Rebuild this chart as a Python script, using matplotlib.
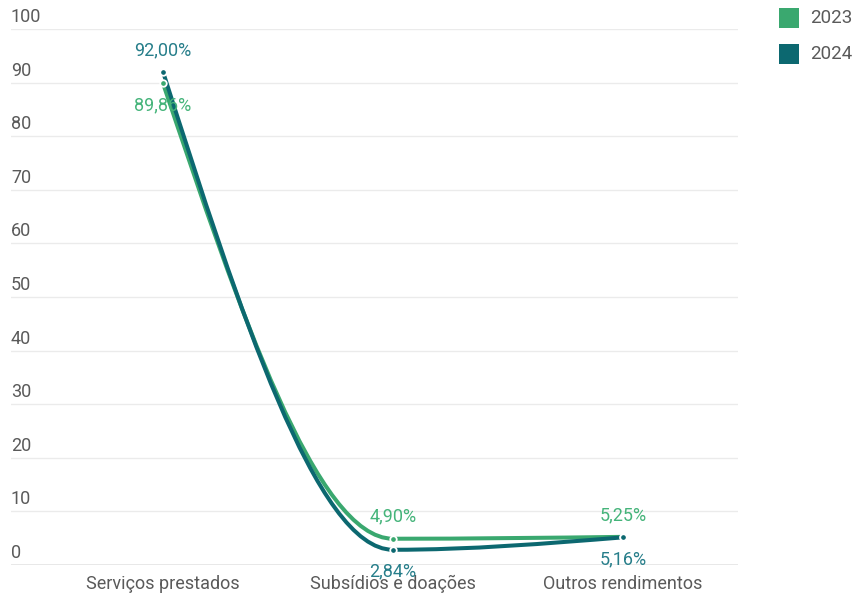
import numpy as np
import matplotlib
matplotlib.use("Agg")
import matplotlib.pyplot as plt
from matplotlib.path import Path
from matplotlib.patches import PathPatch, Rectangle

plt.rcParams['font.family'] = ['Roboto', 'DejaVu Sans']

categories = ["Serviços prestados", "Subsídios e doações", "Outros rendimentos"]
series_names = ["2023", "2024"]
values_2023 = [89.86, 4.90, 5.25]
values_2024 = [92.00, 2.84, 5.16]
y_ticks = [0, 10, 20, 30, 40, 50, 60, 70, 80, 90, 100]

colors = {"2023": "#3aa86f", "2024": "#0c6870"}
label_colors = {"2023": "#45b47a", "2024": "#277e8a"}
# label placement per point: +1 above, -1 below
placement = {"2023": [-1, 1, 1], "2024": [1, -1, -1]}


def monotone_path(x, y):
    """Cubic Bezier path using monotone-X tangents (as in d3.curveMonotoneX)."""
    x = np.asarray(x, float)
    y = np.asarray(y, float)
    n = len(x)
    h = np.diff(x)
    s = np.diff(y) / h
    t = np.zeros(n)
    for i in range(1, n - 1):
        s0, s1 = s[i - 1], s[i]
        p = (s0 * h[i] + s1 * h[i - 1]) / (h[i - 1] + h[i])
        t[i] = (np.sign(s0) + np.sign(s1)) * min(abs(s0), abs(s1), 0.5 * abs(p))
    t[0] = (3 * s[0] - t[1]) / 2
    t[-1] = (3 * s[-1] - t[-2]) / 2
    verts = [(x[0], y[0])]
    codes = [Path.MOVETO]
    for i in range(n - 1):
        dx = (x[i + 1] - x[i]) / 3
        verts += [(x[i] + dx, y[i] + dx * t[i]),
                  (x[i + 1] - dx, y[i + 1] - dx * t[i + 1]),
                  (x[i + 1], y[i + 1])]
        codes += [Path.CURVE4] * 3
    return Path(verts, codes)


fig = plt.figure(figsize=(8.58, 5.94), dpi=100)
W, H = 858, 594
ax = fig.add_axes([11 / W, (H - 565) / H, (738 - 11) / W, (565 - 29) / H])
ax.set_xlim(-0.661, 2.5)
ax.set_ylim(0, 100)

for s in ax.spines.values():
    s.set_visible(False)
ax.set_yticks([])
for v in y_ticks:
    if v == 0:
        ax.axhline(v, color="#8a8a8a", lw=1.0, zorder=2)
    else:
        ax.axhline(v, color="#ebebeb", lw=1.0, zorder=1)
    ax.annotate(str(v), xy=(0, v), xycoords=('axes fraction', 'data'),
                xytext=(0, 3), textcoords='offset pixels',
                ha='left', va='bottom', fontsize=13, color="#5a5a5a")

xs = np.arange(len(categories))
ax.set_xticks(xs)
ax.set_xticklabels(categories, fontsize=13, color="#5a5a5a")
ax.tick_params(axis='x', length=0, pad=7)

data = {"2023": values_2023, "2024": values_2024}
for k, name in enumerate(series_names):
    vals = data[name]
    path = monotone_path(xs, vals)
    ax.add_patch(PathPatch(path, facecolor='none', edgecolor=colors[name],
                           lw=2.9, capstyle='round', zorder=3 + k))
    ax.scatter(xs, vals, s=22, color=colors[name], edgecolor='white',
               linewidth=1.3, zorder=5 + k)
    for xi, v, side in zip(xs, vals, placement[name]):
        lab = f"{v:.2f}".replace(".", ",") + "%"
        ax.annotate(lab, xy=(xi, v), xytext=(0, 22 * side),
                    textcoords='offset pixels', ha='center', va='center',
                    fontsize=13, color=label_colors[name], zorder=8)

# legend
for k, name in enumerate(series_names):
    top = 8 + k * 36
    fig.add_artist(Rectangle((779 / W, (H - top - 20) / H), 20 / W, 20 / H,
                             transform=fig.transFigure, facecolor=colors[name],
                             edgecolor='none'))
    fig.text(810 / W, (H - top - 10) / H, name, ha='left', va='center',
             fontsize=13.5, color="#5a5a5a")

fig.savefig("out.png", dpi=100)
